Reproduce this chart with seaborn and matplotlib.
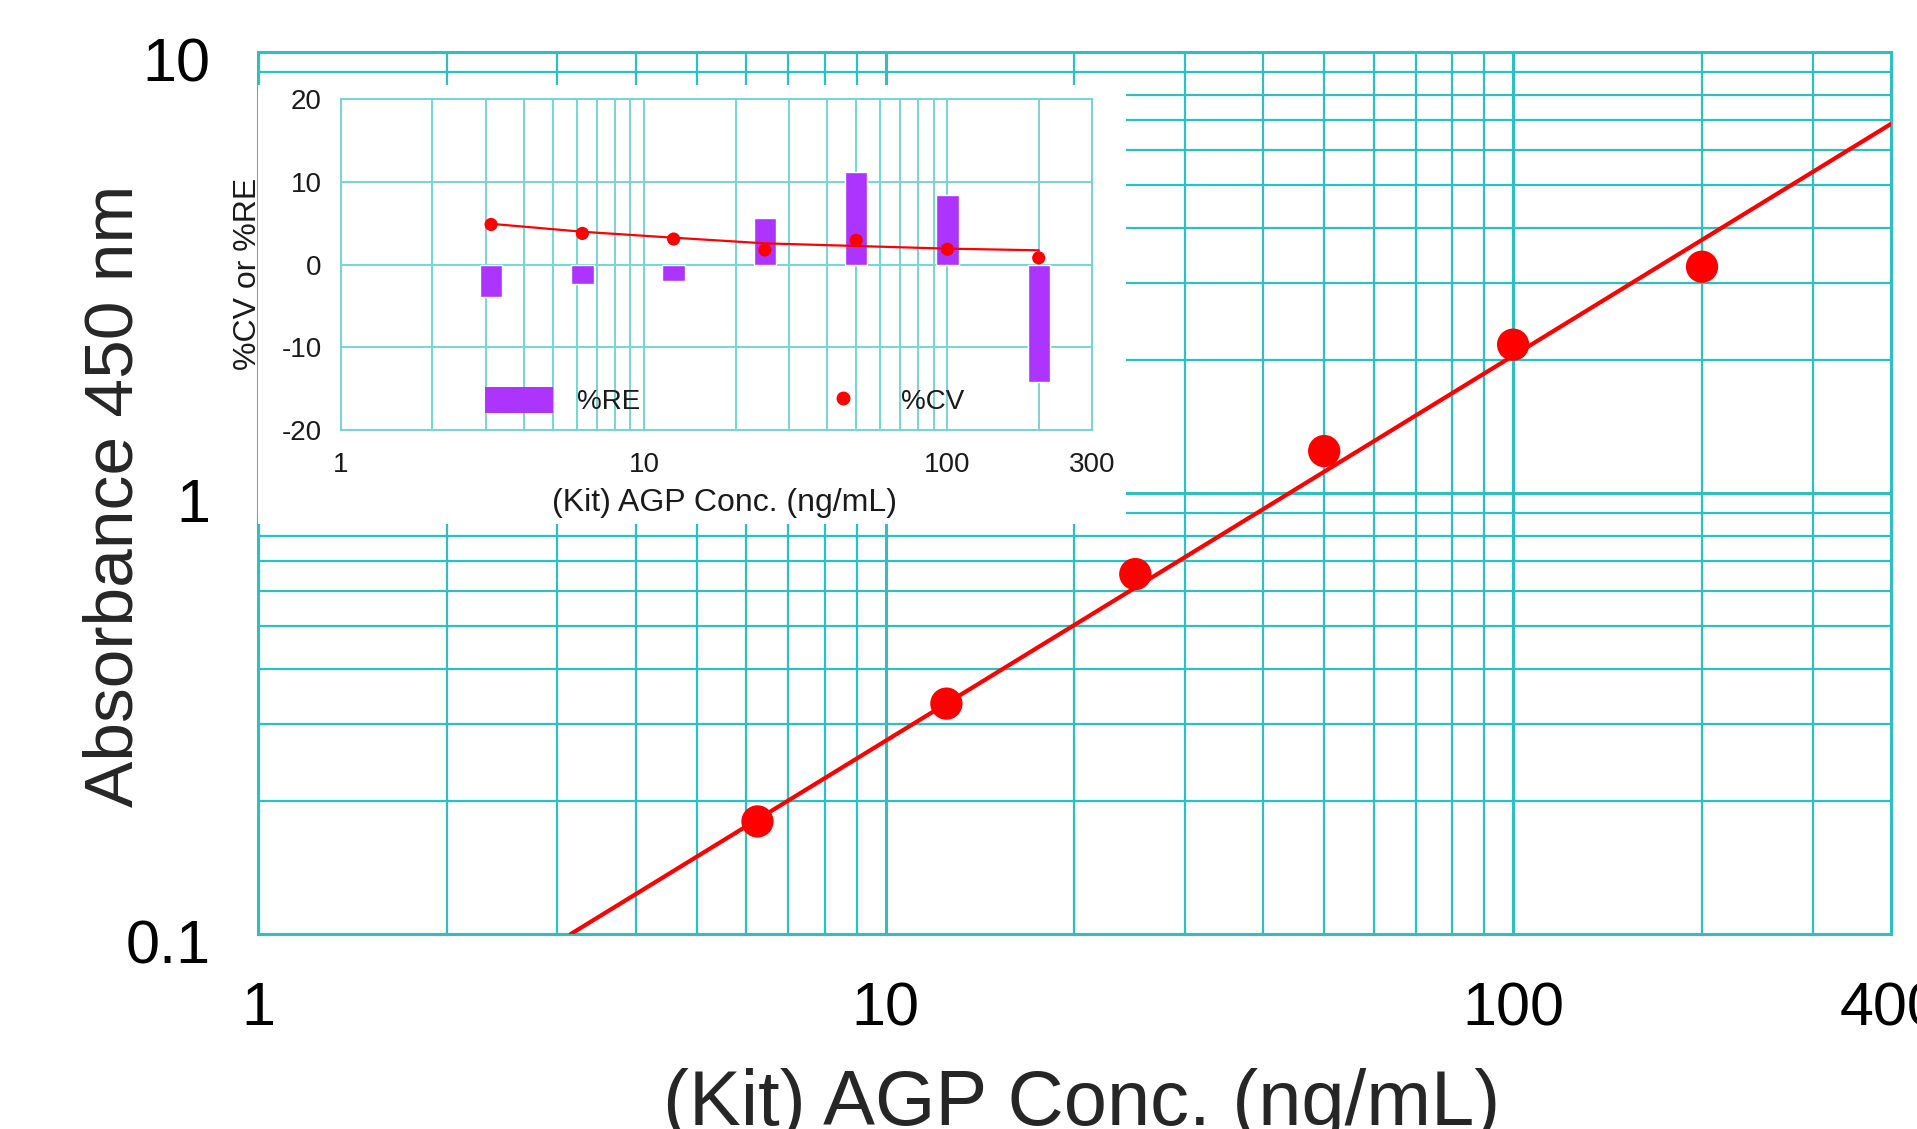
import matplotlib
matplotlib.use("Agg")
import matplotlib.pyplot as plt
import matplotlib.transforms as mtrans
from matplotlib.patches import Rectangle, Patch
from matplotlib.lines import Line2D
from matplotlib.ticker import FixedLocator, NullFormatter, FuncFormatter
import seaborn as sns

# standard curve (main panel)
std_conc = [6.25, 12.5, 25, 50, 100, 200]
std_abs = [0.18, 0.333, 0.655, 1.245, 2.17, 3.26]
# fitted line, read at its two ends
fit_conc = [3.15, 400]
fit_abs = [0.1, 6.87]

# precision / accuracy (inset)
qc_conc = [3.125, 6.25, 12.5, 25, 50, 100, 200]
re_pct = [-3.9, -2.4, -2.0, 5.6, 11.2, 8.4, -14.2]
cv_pct = [4.84, 3.76, 3.08, 1.76, 2.92, 1.84, 0.8]
cv_fit = [4.92, 3.96, 3.24, 2.56, 2.24, 1.92, 1.72]

main_xticks = [1, 10, 100, 400]
main_yticks = [0.1, 1, 10]
inset_xticks = [1, 10, 100, 300]
inset_yticks = [-20, -10, 0, 10, 20]

GRID = "#2cc0c0"
GRID_IN = "#74d5d5"
RED = "#ff0000"
PURPLE = "#ad33ff"

sns.set_style("white")
plt.rcParams["font.family"] = ["Liberation Sans", "DejaVu Sans"]
plt.rcParams["axes.unicode_minus"] = False

fmt = FuncFormatter(lambda v, p: f"{v:g}")


def log_minors(top):
    return [m * 10 ** d for d in range(4) for m in range(2, 10) if m * 10 ** d < top]


fig = plt.figure(figsize=(19.17, 11.29), dpi=100)

# ---- main panel
ax = fig.add_axes([0.1346, 0.1727, 0.8518, 0.7812])
ax.set_xscale("log")
ax.set_yscale("log")
sns.lineplot(x=fit_conc, y=fit_abs, ax=ax, color=RED, lw=3, zorder=3)
sns.scatterplot(x=std_conc, y=std_abs, ax=ax, color=RED, s=540,
                edgecolor="none", zorder=4)
ax.set_xlim(1, 400)
ax.set_ylim(0.1, 10)
ax.xaxis.set_major_locator(FixedLocator(main_xticks))
ax.xaxis.set_minor_locator(FixedLocator(log_minors(400)))
ax.yaxis.set_major_locator(FixedLocator(main_yticks))
ax.yaxis.set_minor_locator(FixedLocator([m * 10 ** d for d in (-1, 0) for m in range(2, 10)]))
ax.xaxis.set_major_formatter(fmt)
ax.yaxis.set_major_formatter(fmt)
ax.xaxis.set_minor_formatter(NullFormatter())
ax.yaxis.set_minor_formatter(NullFormatter())
ax.grid(which="major", color=GRID, lw=2.2)
ax.grid(which="minor", color=GRID, lw=1.6)
ax.set_axisbelow(True)
ax.tick_params(which="both", length=0, labelsize=44, pad=34, labelcolor="black")
shift = mtrans.ScaledTranslation(0, -0.07, fig.dpi_scale_trans)
for lab in ax.get_yticklabels():
    lab.set_transform(lab.get_transform() + shift)
for s in ax.spines.values():
    s.set_color(GRID)
    s.set_linewidth(2.2)
ax.set_xlabel("(Kit) AGP Conc. (ng/mL)", fontsize=56)
ax.set_ylabel("Absorbance 450 nm", fontsize=50)
ax.xaxis.set_label_coords(0.5046, -0.152)
ax.yaxis.set_label_coords(-0.068, 0.4966)

# white panel behind the inset
fig.add_artist(Rectangle((258 / 1917, 1 - 524 / 1129), (1126 - 258) / 1917,
                         (524 - 85) / 1129, transform=fig.transFigure,
                         facecolor="white", edgecolor="none", zorder=0.5))

# ---- inset
axi = fig.add_axes([0.1779, 0.6191, 0.3918, 0.2932], zorder=1)
axi.set_xscale("log")
sns.barplot(x=qc_conc, y=re_pct, ax=axi, native_scale=True, color=PURPLE,
            saturation=1, width=0.245, errorbar=None, zorder=2)
sns.lineplot(x=qc_conc, y=cv_fit, ax=axi, color=RED, lw=1.6, zorder=3)
sns.scatterplot(x=qc_conc, y=cv_pct, ax=axi, color=RED, s=90,
                edgecolor="none", zorder=4)
axi.set_xlim(1, 300)
axi.set_ylim(-20, 20)
axi.xaxis.set_major_locator(FixedLocator(inset_xticks))
axi.xaxis.set_minor_locator(FixedLocator(log_minors(300)))
axi.xaxis.set_major_formatter(fmt)
axi.xaxis.set_minor_formatter(NullFormatter())
axi.yaxis.set_major_locator(FixedLocator(inset_yticks))
axi.grid(which="both", axis="x", color=GRID_IN, lw=1.4)
axi.grid(which="major", axis="y", color=GRID_IN, lw=1.4)
axi.set_axisbelow(True)
axi.tick_params(axis="x", which="both", length=0, labelsize=20, pad=16, labelcolor="#1a1a1a")
axi.tick_params(axis="y", which="both", length=0, labelsize=20, pad=14, labelcolor="#1a1a1a")
for s in axi.spines.values():
    s.set_color(GRID_IN)
    s.set_linewidth(1.4)
axi.set_xlabel("(Kit) AGP Conc. (ng/mL)", fontsize=23, color="#1a1a1a")
axi.set_ylabel("%CV or %RE", fontsize=23, color="#1a1a1a")
axi.xaxis.set_label_coords(0.51, -0.175)
axi.yaxis.set_label_coords(-0.104, 0.471)

handles = [Patch(facecolor=PURPLE, edgecolor="none"),
           Line2D([], [], ls="none", marker="o", color=RED, markersize=9)]
axi.legend(handles, ["%RE", "%CV"], ncol=2, frameon=False, fontsize=20,
           loc="center left", bbox_to_anchor=(0.1917, 0.0876),
           borderpad=0, borderaxespad=0, handlelength=2.45, handleheight=1.08,
           handletextpad=0.85, columnspacing=6.1, labelcolor="#1a1a1a")

fig.savefig("out.png", dpi=100)
